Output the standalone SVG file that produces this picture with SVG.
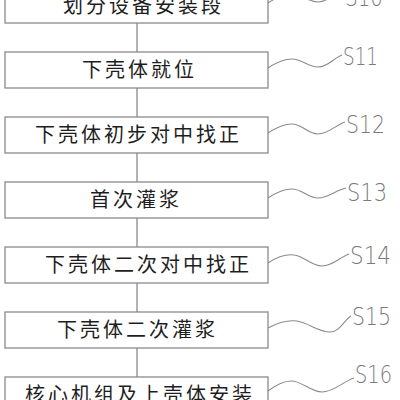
<svg xmlns="http://www.w3.org/2000/svg" width="400" height="400" viewBox="0 0 400 400">
  <defs>
    <style>
      .box { fill: #ffffff; stroke: #8a8a8a; stroke-width: 1.3; }
      .conn { stroke: #8a8a8a; stroke-width: 1.3; fill: none; }
      .lead { stroke: #8a8a8a; stroke-width: 1.1; fill: none; }
      .step { font-family: "Noto Sans CJK SC", "Noto Sans", sans-serif; font-size: 20px; letter-spacing: 3px; fill: #1e1e1e; }
      .tag { font-family: "DejaVu Sans", "Liberation Sans", sans-serif; font-weight: 200; font-size: 25px; fill: #7a7a7a; }
    </style>
  </defs>
  <rect width="400" height="400" fill="#ffffff"/>

  <!-- vertical links between the step boxes -->
  <g id="connectors">
    <line class="conn" x1="137" y1="23" x2="137" y2="52"/>
    <line class="conn" x1="137" y1="88" x2="137" y2="117"/>
    <line class="conn" x1="137" y1="153" x2="137" y2="182"/>
    <line class="conn" x1="137" y1="218" x2="137" y2="247"/>
    <line class="conn" x1="137" y1="283" x2="137" y2="312"/>
    <line class="conn" x1="137" y1="348" x2="137" y2="377"/>
  </g>

  <g id="S10">
    <rect class="box" x="5" y="-13" width="263" height="36"/>
    <text class="step" x="63" y="13">划分设备安装段</text>
    <path class="lead" d="M268,3 C277,-3 284,-6 292,-6 C302,-6 308,2 318,2 C328,2 334,-7 344,-10"/>
    <text class="tag" x="345" y="6" textLength="38" lengthAdjust="spacingAndGlyphs">S10</text>
  </g>

  <g id="S11">
    <rect class="box" x="5" y="52" width="263" height="36"/>
    <text class="step" x="82" y="77">下壳体就位</text>
    <path class="lead" d="M268,68 C277,62 284,59 292,59 C302,59 308,67 318,67 C328,67 334,58 342,55"/>
    <text class="tag" x="343" y="65" textLength="35" lengthAdjust="spacingAndGlyphs">S11</text>
  </g>

  <g id="S12">
    <rect class="box" x="5" y="117" width="263" height="36"/>
    <text class="step" x="35" y="142">下壳体初步对中找正</text>
    <path class="lead" d="M268,133 C277,127 284,124 292,124 C302,124 308,134 318,134 C328,134 336,125 345,122"/>
    <text class="tag" x="346" y="133" textLength="39" lengthAdjust="spacingAndGlyphs">S12</text>
  </g>

  <g id="S13">
    <rect class="box" x="5" y="182" width="263" height="36"/>
    <text class="step" x="90" y="207">首次灌浆</text>
    <path class="lead" d="M268,198 C277,192 284,189 292,189 C302,189 308,198 318,198 C328,198 336,190 346,188"/>
    <text class="tag" x="347" y="201" textLength="40" lengthAdjust="spacingAndGlyphs">S13</text>
  </g>

  <g id="S14">
    <rect class="box" x="5" y="247" width="263" height="36"/>
    <text class="step" x="45" y="272">下壳体二次对中找正</text>
    <path class="lead" d="M268,263 C277,257 286,254 294,255 C304,256 311,266 322,266 C333,266 340,257 349,254"/>
    <text class="tag" x="350" y="264" textLength="41" lengthAdjust="spacingAndGlyphs">S14</text>
  </g>

  <g id="S15">
    <rect class="box" x="5" y="312" width="263" height="36"/>
    <text class="step" x="57" y="337">下壳体二次灌浆</text>
    <path class="lead" d="M268,328 C279,322 288,320 297,321 C309,323 318,332 330,332 C340,332 344,320 351,316"/>
    <text class="tag" x="352" y="325" textLength="39" lengthAdjust="spacingAndGlyphs">S15</text>
  </g>

  <g id="S16">
    <rect class="box" x="5" y="377" width="263" height="36"/>
    <text class="step" x="25" y="402">核心机组及上壳体安装</text>
    <path class="lead" d="M268,391 C276,385 283,381 291,381 C302,381 311,392 322,392 C334,392 344,381 354,378"/>
    <text class="tag" x="355" y="383" textLength="37" lengthAdjust="spacingAndGlyphs">S16</text>
  </g>
</svg>
